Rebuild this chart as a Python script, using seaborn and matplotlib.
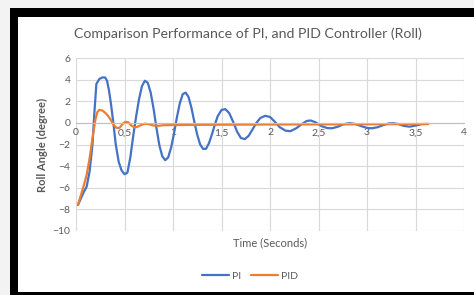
import numpy as np
import pandas as pd
import matplotlib
matplotlib.use("Agg")
import matplotlib.pyplot as plt
from matplotlib.patches import Rectangle
from matplotlib.ticker import FuncFormatter
import seaborn as sns

# PI controller response
pi_t = [0.02, 0.05, 0.08, 0.11, 0.14, 0.17, 0.19, 0.21, 0.24, 0.27, 0.30, 0.32, 0.34, 0.36,
        0.385, 0.41, 0.44, 0.47, 0.50, 0.53, 0.56, 0.59, 0.62, 0.65, 0.68, 0.71, 0.74, 0.77,
        0.80, 0.83, 0.86, 0.89, 0.92, 0.95, 0.98, 1.01, 1.04, 1.07, 1.10, 1.13, 1.16, 1.19,
        1.22, 1.25, 1.28, 1.31, 1.34, 1.37, 1.40, 1.43, 1.46, 1.50, 1.54, 1.58, 1.62, 1.66,
        1.70, 1.74, 1.78, 1.82, 1.86, 1.90, 1.95, 2.00, 2.05, 2.10, 2.16, 2.21, 2.27, 2.33,
        2.38, 2.42, 2.47, 2.53, 2.59, 2.64, 2.70, 2.76, 2.82, 2.88, 2.94, 3.00, 3.05, 3.11,
        3.17, 3.22, 3.27, 3.32, 3.38, 3.44, 3.50, 3.56, 3.63]
pi_y = [-7.6, -7.0, -6.4, -5.9, -4.5, -2.0, 1.0, 3.6, 4.05, 4.2, 4.2, 3.9, 3.0, 1.8,
        0.0, -2.0, -3.6, -4.4, -4.75, -4.6, -3.2, -1.2, 0.6, 2.2, 3.4, 3.9, 3.7, 2.8,
        1.3, -0.5, -2.1, -3.1, -3.45, -3.2, -2.3, -1.0, 0.5, 1.8, 2.65, 2.8, 2.4, 1.4,
        0.1, -1.1, -2.0, -2.4, -2.4, -1.9, -1.1, -0.2, 0.6, 1.2, 1.27, 0.9, 0.1, -0.8,
        -1.4, -1.5, -1.2, -0.6, 0.0, 0.45, 0.65, 0.55, 0.1, -0.4, -0.72, -0.77, -0.5, -0.1,
        0.18, 0.22, 0.05, -0.3, -0.48, -0.5, -0.35, -0.12, -0.03, -0.1, -0.3, -0.47, -0.5, -0.4,
        -0.2, -0.06, -0.03, -0.1, -0.28, -0.35, -0.25, -0.12, -0.1]

# PID controller response
pid_t = [0.02, 0.05, 0.08, 0.11, 0.14, 0.17, 0.20, 0.22, 0.24, 0.27, 0.30, 0.33, 0.36, 0.39,
         0.42, 0.45, 0.48, 0.51, 0.54, 0.57, 0.60, 0.63, 0.67, 0.71, 0.75, 0.80, 0.85, 0.90,
         1.0, 1.5, 2.0, 2.5, 3.0, 3.63]
pid_y = [-7.6, -6.7, -5.8, -4.8, -3.3, -1.4, 0.3, 1.0, 1.2, 1.15, 0.95, 0.65, 0.25, -0.2,
         -0.48, -0.45, -0.1, 0.1, 0.05, -0.25, -0.4, -0.38, -0.2, -0.08, -0.12, -0.25, -0.27, -0.22,
         -0.2, -0.17, -0.15, -0.14, -0.13, -0.1]

df = pd.concat([
    pd.DataFrame({"t": pi_t, "angle": pi_y, "series": "PI"}),
    pd.DataFrame({"t": pid_t, "angle": pid_y, "series": "PID"}),
])

sns.set_style("white")
plt.rcParams['font.family'] = ['Lato', 'DejaVu Sans']
grey = '#595959'

fig = plt.figure(figsize=(4.74, 2.95), dpi=100, facecolor='#f3f3f3')
# black frame and white chart area
fig.patches.append(Rectangle((10/474, 0), 464/474, 287/295, transform=fig.transFigure,
                             facecolor='black', edgecolor='none', zorder=-2))
fig.patches.append(Rectangle((18/474, 3/295), 456/474, 275.5/295, transform=fig.transFigure,
                             facecolor='white', edgecolor='none', zorder=-1))

ax = fig.add_axes([76/474, 1-231/295, 388/474, 173/295])
ax.set_facecolor('none')
sns.lineplot(data=df, x='t', y='angle', hue='series', palette=['#4472C4', '#ED7D31'],
             estimator=None, sort=False, linewidth=1.6, ax=ax)

ax.set_xlim(0, 4)
ax.set_ylim(-10, 6)
ax.set_xticks(np.arange(0, 4.01, 0.5))
ax.set_yticks(np.arange(-10, 6.1, 2))
ax.xaxis.set_major_formatter(FuncFormatter(lambda v, p: f"{v:g}".replace('.', ',')))
ax.grid(True, color='#d9d9d9', linewidth=0.8)
for s in ['top', 'right', 'left']:
    ax.spines[s].set_visible(False)
ax.spines['bottom'].set_position(('data', 0))
ax.spines['bottom'].set_color('#bfbfbf')
ax.spines['bottom'].set_linewidth(0.8)
ax.tick_params(length=0, labelsize=7.5, colors=grey, pad=4)

ax.set_xlabel('Time (Seconds)', fontsize=8, color=grey)
ax.xaxis.set_label_coords(0.5, -0.035)
ax.set_ylabel('Roll Angle (degree)', fontsize=8, color=grey, fontweight='bold')
ax.yaxis.set_label_coords(-0.072, 0.5)
fig.text(248/474, 1-34/295, 'Comparison Performance of PI, and PID Controller (Roll)',
         fontsize=10.2, color=grey, ha='center', va='center')

h, l = ax.get_legend_handles_labels()
ax.legend(h, l, loc='center', bbox_to_anchor=(250/474, 1-276/295), bbox_transform=fig.transFigure,
          ncol=2, frameon=False, fontsize=7.5, labelcolor=grey, handlelength=2.6,
          handletextpad=0.3, columnspacing=1.0)

fig.savefig('out.png', dpi=100, facecolor=fig.get_facecolor())
